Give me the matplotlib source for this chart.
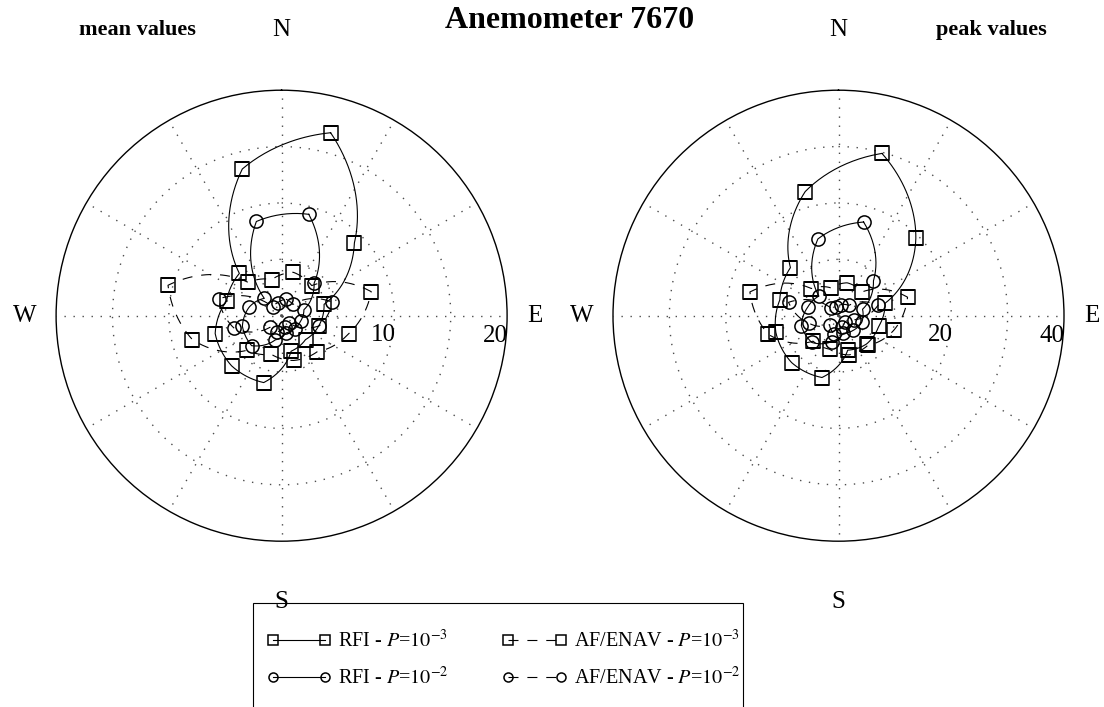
import matplotlib.pyplot as plt
import numpy as np
from matplotlib.lines import Line2D
from matplotlib.patches import Rectangle

plt.rcParams["font.family"] = ["Liberation Serif", "DejaVu Serif"]
plt.rcParams["mathtext.fontset"] = "stix"

# wind sectors (degrees from north, clockwise)
directions = [15, 45, 75, 105, 135, 165, 195, 225, 255, 285, 315, 345]

# mean values
mean_rfi_3 = [16.8, 9.13, 3.9, 3.42, 3.0, 3.26, 6.14, 6.28, 6.1, 5.05, 5.3, 13.47]
mean_rfi_2 = [9.31, 4.08, 2.05, 1.76, 1.63, 1.57, 2.23, 3.76, 3.6, 2.97, 2.17, 8.65]
mean_af_3 = [3.99, 3.78, 8.23, 6.16, 4.5, 4.11, 3.54, 4.34, 8.19, 10.43, 4.17, 3.32]
mean_af_2 = [1.51, 1.41, 4.65, 3.46, 0.87, 1.06, 1.47, 1.45, 4.34, 5.78, 1.13, 1.21]

# peak values
peak_rfi_3 = [29.8, 19.4, 8.56, 7.37, 7.07, 6.32, 11.35, 11.76, 11.5, 10.78, 12.06, 22.8]
peak_rfi_2 = [17.2, 8.77, 4.42, 4.3, 3.68, 3.23, 4.78, 6.71, 6.82, 5.68, 4.92, 14.1]
peak_af_3 = [6.04, 6.0, 12.68, 10.12, 7.4, 7.2, 6.15, 6.39, 12.86, 16.27, 6.82, 5.1]
peak_af_2 = [2.04, 2.58, 7.28, 2.79, 1.56, 2.13, 3.27, 2.24, 5.33, 9.18, 2.0, 1.53]

series_labels = [r"RFI - $P$=$10^{-3}$", r"RFI - $P$=$10^{-2}$",
                 r"AF/ENAV - $P$=$10^{-3}$", r"AF/ENAV - $P$=$10^{-2}$"]
series_markers = ["s", "o", "s", "o"]
series_styles = ["-", "-", (0, (9, 8)), (0, (9, 8))]

mean_rings = [5, 10, 15]
mean_ring_labels = ["10", "20"]
peak_rings = [10, 20, 30]
peak_ring_labels = ["20", "40"]

W, H = 1104, 707


def draw_rose(rect, rmax, rings, ring_labels, values):
    ax = fig.add_axes(rect, projection="polar")
    ax.set_theta_zero_location("N")
    ax.set_theta_direction(-1)
    ax.set_ylim(0, rmax)
    ax.set_yticks(rings)
    ax.set_yticklabels([])
    ax.set_xticks(np.deg2rad(np.arange(0, 360, 30)))
    ax.set_xticklabels([])
    ax.tick_params(length=0)
    ax.grid(True, color="0.3", linestyle=(0, (1, 5.5)), linewidth=1.0)
    ax.spines["polar"].set_linewidth(1.0)

    theta = np.deg2rad(directions + [directions[0] + 360])
    for vals, mk, ls in zip(values, series_markers, series_styles):
        line, = ax.plot(theta, vals + [vals[0]], color="k", lw=0.8, ls=ls,
                        marker=mk, ms=9.5, mfc="none", mew=1.1,
                        markevery=slice(0, 12))
        # let the polar transform draw each segment as a curve
        line.get_path()._interpolation_steps = 40

    # ring labels, just inside the rings below the east spoke
    for lab, (ang, frac) in zip(ring_labels, [(101, 0.46), (95.3, 0.952)]):
        ax.text(np.deg2rad(ang), frac * rmax, lab, ha="center", va="center",
                fontsize=18)

    for lab, x, y in [("N", 0.5, 1.133), ("E", 1.062, 0.5),
                      ("W", -0.07, 0.5), ("S", 0.5, -0.135)]:
        ax.text(x, y, lab, transform=ax.transAxes, ha="center", va="center",
                fontsize=18)
    return ax


fig = plt.figure(figsize=(W / 100, H / 100), dpi=100)

side = 451
draw_rose([(281.6 - side / 2) / W, (H - 315.7 - side / 2) / H, side / W, side / H],
          20, mean_rings, mean_ring_labels,
          [mean_rfi_3, mean_rfi_2, mean_af_3, mean_af_2])
draw_rose([(838.5 - side / 2) / W, (H - 315.7 - side / 2) / H, side / W, side / H],
          40, peak_rings, peak_ring_labels,
          [peak_rfi_3, peak_rfi_2, peak_af_3, peak_af_2])

fig.text(570 / W, 1 - 20 / H, "Anemometer 7670", ha="center", va="center",
         fontsize=23, fontweight="bold")
fig.text(137 / W, 1 - 30 / H, "mean values", ha="center", va="center",
         fontsize=16, fontweight="bold")
fig.text(991 / W, 1 - 30 / H, "peak values", ha="center", va="center",
         fontsize=16, fontweight="bold")

# legend
handles = [Line2D([], [], color="k", lw=0.8, ls=ls, marker=mk, ms=6.5,
                  mfc="none", mew=1.1)
           for mk, ls in zip(series_markers, series_styles)]
fig.legend(handles, series_labels, ncol=2, loc="upper left",
           bbox_to_anchor=(267 / W, 1 - 630 / H), frameon=False,
           fontsize=14.5, numpoints=2, handlelength=3.2, handletextpad=0.35,
           columnspacing=2.65, labelspacing=0.75, borderpad=0, borderaxespad=0)
fig.patches.append(Rectangle((253 / W, -0.05), (743 - 253) / W, 0.05 + (H - 603) / H,
                             transform=fig.transFigure, fill=False,
                             ec="k", lw=0.8))

fig.savefig("out.png", dpi=100)
